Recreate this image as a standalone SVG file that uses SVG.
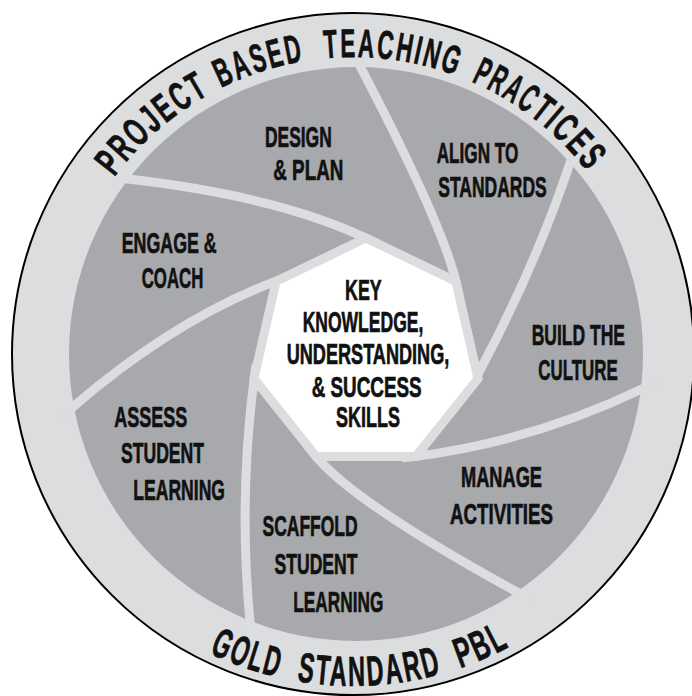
<svg xmlns="http://www.w3.org/2000/svg" width="692" height="696" viewBox="0 0 692 696">
<defs>
<style>
.lbl{font-family:"Liberation Sans",Arial,sans-serif;font-weight:bold;font-size:30px;fill:#111;stroke:#111;stroke-width:0.7px;}
.arc{font-family:"Liberation Sans",Arial,sans-serif;font-weight:bold;fill:#111;stroke:#111;stroke-width:0.7px;letter-spacing:4px;}
.top{font-size:40px;}
.bot{font-size:42px;}
.sep{fill:none;stroke:#dcdddf;stroke-width:9;stroke-linejoin:round;}
</style>
<path id="topArc" d="M56,354 A297,297 0 0 1 650,354"/>
<path id="botArc" d="M21,354 A332,332 0 0 0 685,354"/>
</defs>
<rect width="692" height="696" fill="#fff"/>
<g id="ring"><circle cx="353" cy="354" r="341" fill="#dcdddf" stroke="#000" stroke-width="2"/></g>
<g id="blades"><circle cx="356" cy="354" r="287" fill="#a7a9ac"/></g>
<g id="connectors" class="sep">
<path d="M108.1,176.7 L128,179 Q278,196 368,239 L378.8,244.2"/>
<path d="M351.8,50.2 L361,68 Q443,225 456.4,283.4 L459.1,295.1"/>
<path d="M577.5,141.1 L571,160 Q535.5,267 477,376 L471.3,386.6"/>
<path d="M662,379.4 L644,388 Q532.65,441.7 413.7,456.6 L401.8,458.1"/>
<path d="M534.6,601.6 L517,592 Q352.2,501.8 314.8,454.9 L307.3,445.5"/>
<path d="M252.1,641.9 L250,622 Q238.3,499 254.4,376.5 L256,364.6"/>
<path d="M58.9,419.1 L74,406 Q176.5,318.2 278,280.4 L289.2,276.2"/>
</g>
<g id="hub">
<polygon points="366,243 452,284.4 473.2,377.5 413.7,452.1 318.3,452.1 258.8,377.5 280,284.4" fill="#dcdddf" stroke="#dcdddf" stroke-width="18" stroke-linejoin="miter"/>
<polygon points="366,243 452,284.4 473.2,377.5 413.7,452.1 318.3,452.1 258.8,377.5 280,284.4" fill="#fff"/>
<text class="lbl" x="345" y="300" textLength="36.7" lengthAdjust="spacingAndGlyphs">KEY</text>
<text class="lbl" x="302.7" y="331.7" textLength="120.6" lengthAdjust="spacingAndGlyphs">KNOWLEDGE,</text>
<text class="lbl" x="286.7" y="364" textLength="162.6" lengthAdjust="spacingAndGlyphs">UNDERSTANDING,</text>
<text class="lbl" x="311.7" y="396.7" textLength="110" lengthAdjust="spacingAndGlyphs">&amp; SUCCESS</text>
<text class="lbl" x="336" y="426.7" textLength="64" lengthAdjust="spacingAndGlyphs">SKILLS</text>
</g>
<g id="design-plan">
<text class="lbl" x="265" y="146.7" textLength="66.7" lengthAdjust="spacingAndGlyphs">DESIGN</text>
<text class="lbl" x="273.3" y="180" textLength="70" lengthAdjust="spacingAndGlyphs">&amp; PLAN</text>
</g>
<g id="align-standards">
<text class="lbl" x="436.7" y="163.3" textLength="81.6" lengthAdjust="spacingAndGlyphs">ALIGN TO</text>
<text class="lbl" x="438.3" y="196.7" textLength="108.4" lengthAdjust="spacingAndGlyphs">STANDARDS</text>
</g>
<g id="build-culture">
<text class="lbl" x="531.7" y="345" textLength="93.3" lengthAdjust="spacingAndGlyphs">BUILD THE</text>
<text class="lbl" x="538.3" y="380" textLength="79.4" lengthAdjust="spacingAndGlyphs">CULTURE</text>
</g>
<g id="manage-activities">
<text class="lbl" x="461" y="487" textLength="81" lengthAdjust="spacingAndGlyphs">MANAGE</text>
<text class="lbl" x="450" y="524" textLength="103" lengthAdjust="spacingAndGlyphs">ACTIVITIES</text>
</g>
<g id="scaffold">
<text class="lbl" x="262.6" y="536" textLength="95" lengthAdjust="spacingAndGlyphs">SCAFFOLD</text>
<text class="lbl" x="274.5" y="573.7" textLength="83" lengthAdjust="spacingAndGlyphs">STUDENT</text>
<text class="lbl" x="293.3" y="611.7" textLength="90" lengthAdjust="spacingAndGlyphs">LEARNING</text>
</g>
<g id="assess">
<text class="lbl" x="114.3" y="426.7" textLength="73" lengthAdjust="spacingAndGlyphs">ASSESS</text>
<text class="lbl" x="121" y="463.3" textLength="83" lengthAdjust="spacingAndGlyphs">STUDENT</text>
<text class="lbl" x="133.3" y="500" textLength="91.7" lengthAdjust="spacingAndGlyphs">LEARNING</text>
</g>
<g id="engage-coach">
<text class="lbl" x="121.7" y="253.3" textLength="95" lengthAdjust="spacingAndGlyphs">ENGAGE &amp;</text>
<text class="lbl" x="141.7" y="288.3" textLength="61.6" lengthAdjust="spacingAndGlyphs">COACH</text>
</g>
<g id="title-top">
<text class="arc top" text-anchor="middle"><textPath href="#topArc" startOffset="253.7" textLength="128.8" lengthAdjust="spacingAndGlyphs">PROJECT</textPath></text>
<text class="arc top" text-anchor="middle"><textPath href="#topArc" startOffset="374" textLength="88.6" lengthAdjust="spacingAndGlyphs">BASED</textPath></text>
<text class="arc top" text-anchor="middle"><textPath href="#topArc" startOffset="505.4" textLength="135.1" lengthAdjust="spacingAndGlyphs">TEACHING</textPath></text>
<text class="arc top" text-anchor="middle"><textPath href="#topArc" startOffset="621.2" textLength="66.8" lengthAdjust="spacingAndGlyphs">PRAC</textPath></text>
<text class="arc top" text-anchor="middle"><textPath href="#topArc" startOffset="696.4" textLength="83.5" lengthAdjust="spacingAndGlyphs">TICES</textPath></text>
</g>
<g id="title-bottom">
<text class="arc bot" text-anchor="middle"><textPath href="#botArc" startOffset="409.5" textLength="74.2" lengthAdjust="spacingAndGlyphs">GOLD</textPath></text>
<text class="arc bot" text-anchor="middle"><textPath href="#botArc" startOffset="538.7" textLength="148.3" lengthAdjust="spacingAndGlyphs">STANDARD</textPath></text>
<text class="arc bot" text-anchor="middle"><textPath href="#botArc" startOffset="658.1" textLength="55.6" lengthAdjust="spacingAndGlyphs">PBL</textPath></text>
</g>
</svg>
